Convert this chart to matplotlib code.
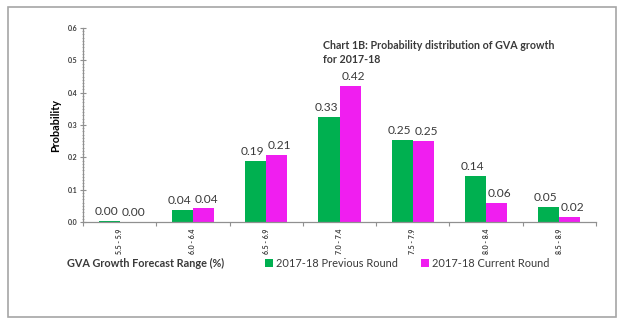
import matplotlib
matplotlib.use("Agg")
import matplotlib.pyplot as plt
import numpy as np
from matplotlib.patches import Rectangle
from matplotlib.ticker import MultipleLocator

plt.rcParams['font.family'] = ['Lato', 'DejaVu Sans']

ranges = ["5.5 - 5.9", "6.0 - 6.4", "6.5 - 6.9", "7.0 - 7.4", "7.5 - 7.9", "8.0 - 8.4", "8.5 - 8.9"]
previous_round = [0.002, 0.037, 0.189, 0.325, 0.254, 0.142, 0.047]
current_round = [0.0, 0.042, 0.207, 0.421, 0.252, 0.060, 0.016]
series_names = ["2017-18 Previous Round", "2017-18 Current Round"]
title = "Chart 1B: Probability distribution of GVA growth\nfor 2017-18"

green = "#00B050"
magenta = "#F01EF0"
text_col = "#3A3A3A"

fig = plt.figure(figsize=(6.25, 3.29), dpi=100)
fig.patch.set_facecolor("white")
fig.patches.append(Rectangle((0.0128, 0.0365), 0.9728, 0.942, transform=fig.transFigure,
                             fill=False, edgecolor="#A6A6A6", lw=1.2))

ax = fig.add_axes([0.1328, 0.3252, 0.8208, 0.5897])
x = np.arange(len(ranges))
w = 0.287
b1 = ax.bar(x - w / 2, previous_round, w, color=green, label=series_names[0])
b2 = ax.bar(x + w / 2, current_round, w, color=magenta, label=series_names[1])

for bars, vals, dx in ((b1, previous_round, -0.04), (b2, current_round, 0.04)):
    for r, v in zip(bars, vals):
        ax.text(r.get_x() + r.get_width() / 2 + dx, v + 0.012, f"{v:.2f}",
                ha="center", va="bottom", fontsize=8.6, color=text_col)

ax.set_xlim(-0.5, len(ranges) - 0.5)
ax.set_ylim(0, 0.6)
ax.yaxis.set_minor_locator(MultipleLocator(0.01))
ax.set_yticks(np.arange(0, 0.61, 0.1))
ax.set_yticklabels([f"{v:.1f}" for v in np.arange(0, 0.61, 0.1)], fontsize=5,
                   fontweight="bold", color=text_col)
ax.tick_params(axis="y", which="major", length=4, width=0.8, color="#909090",
               direction="inout", pad=2)
ax.tick_params(axis="y", which="minor", length=2, width=0.5, color="#909090",
               direction="inout")

ax.set_xticks(x)
ax.set_xticklabels(ranges, rotation=90, fontsize=5, fontweight="bold", color=text_col)
ax.set_xticks(np.arange(-0.5, len(ranges)), minor=True)
ax.tick_params(axis="x", which="major", length=0, pad=5)
ax.tick_params(axis="x", which="minor", length=3, width=0.8, color="#909090")

for s in ("top", "right"):
    ax.spines[s].set_visible(False)
for s in ("left", "bottom"):
    ax.spines[s].set_color("#909090")
    ax.spines[s].set_linewidth(0.9)

ax.set_ylabel("Probability", fontsize=7.8, fontweight="bold", color="black", labelpad=5)

fig.text(0.517, 0.877, title, fontsize=7.7, fontweight="bold", color=text_col,
         ha="left", va="top", linespacing=1.3)

fig.text(0.1072, 0.199, "GVA Growth Forecast Range (%)", fontsize=7.8, fontweight="bold",
         color=text_col, ha="left", va="center")

leg = fig.legend(handles=[b1, b2], loc="center left", bbox_to_anchor=(0.424, 0.199),
                 ncol=2, frameon=False, fontsize=7.9, handlelength=0.7, handleheight=0.7,
                 handletextpad=0.3, columnspacing=2.1, borderaxespad=0, borderpad=0)
for t in leg.get_texts():
    t.set_color(text_col)

fig.savefig("out.png", dpi=100, facecolor="white")
